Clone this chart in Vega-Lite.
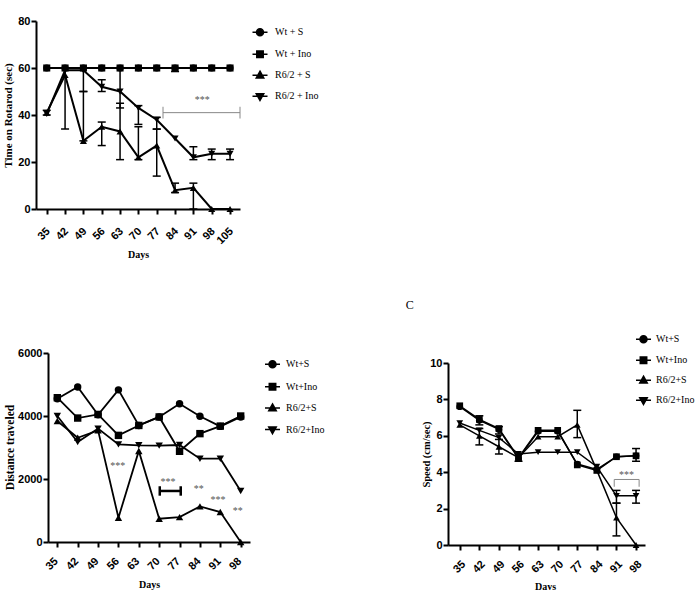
{
  "$schema": "https://vega.github.io/schema/vega-lite/v6.json",
  "width": 699,
  "height": 590,
  "autosize": {"type": "none"},
  "padding": 0,
  "background": "white",
  "config": {
    "view": {"stroke": null},
    "axis": {"grid": false, "domainColor": "#000", "domainWidth": 2, "tickColor": "#000", "tickWidth": 2, "tickSize": 5, "labelColor": "#000", "labelFont": "Liberation Sans", "labelFontSize": 11, "labelFontWeight": "bold", "titleFont": "Liberation Serif", "titleFontWeight": "bold", "titleColor": "#000", "titleFontSize": 11, "labelOverlap": false, "labelFlush": false, "labelPadding": 1, "format": "d"},
    "legend": {"padding": 0, "labelFont": "Liberation Serif", "labelFontSize": 10, "labelColor": "#000", "symbolSize": 225, "symbolStrokeWidth": 1.5, "orient": "none", "title": null}
  },
  "datasets": {
    "a": [
      {"d":35,"s":"Wt + S","v":60},{"d":42,"s":"Wt + S","v":60},{"d":49,"s":"Wt + S","v":60},{"d":56,"s":"Wt + S","v":60},{"d":63,"s":"Wt + S","v":60},{"d":70,"s":"Wt + S","v":60},{"d":77,"s":"Wt + S","v":60},{"d":84,"s":"Wt + S","v":60},{"d":91,"s":"Wt + S","v":60},{"d":98,"s":"Wt + S","v":60},{"d":105,"s":"Wt + S","v":60},
      {"d":35,"s":"Wt + Ino","v":60},{"d":42,"s":"Wt + Ino","v":60},{"d":49,"s":"Wt + Ino","v":60},{"d":56,"s":"Wt + Ino","v":60},{"d":63,"s":"Wt + Ino","v":60},{"d":70,"s":"Wt + Ino","v":60},{"d":77,"s":"Wt + Ino","v":60},{"d":84,"s":"Wt + Ino","v":60},{"d":91,"s":"Wt + Ino","v":60},{"d":98,"s":"Wt + Ino","v":60},{"d":105,"s":"Wt + Ino","v":60},
      {"d":35,"s":"R6/2 + S","v":41},{"d":42,"s":"R6/2 + S","v":57},{"d":49,"s":"R6/2 + S","v":29},{"d":56,"s":"R6/2 + S","v":35},{"d":63,"s":"R6/2 + S","v":33},{"d":70,"s":"R6/2 + S","v":22},{"d":77,"s":"R6/2 + S","v":27},{"d":84,"s":"R6/2 + S","v":8},{"d":91,"s":"R6/2 + S","v":9},{"d":98,"s":"R6/2 + S","v":0},{"d":105,"s":"R6/2 + S","v":0},
      {"d":35,"s":"R6/2 + Ino","v":40.5},{"d":42,"s":"R6/2 + Ino","v":59},{"d":49,"s":"R6/2 + Ino","v":59},{"d":56,"s":"R6/2 + Ino","v":52},{"d":63,"s":"R6/2 + Ino","v":50},{"d":70,"s":"R6/2 + Ino","v":43},{"d":77,"s":"R6/2 + Ino","v":38},{"d":84,"s":"R6/2 + Ino","v":30},{"d":91,"s":"R6/2 + Ino","v":22},{"d":98,"s":"R6/2 + Ino","v":23.5},{"d":105,"s":"R6/2 + Ino","v":23.5}
    ],
    "aErr": [
      {"d":84,"s":"Wt + Ino","lo":58.5,"hi":60},
      {"d":35,"s":"R6/2 + S","lo":40,"hi":42},{"d":42,"s":"R6/2 + S","lo":34,"hi":60},{"d":49,"s":"R6/2 + S","lo":29,"hi":50},{"d":56,"s":"R6/2 + S","lo":27,"hi":37},{"d":63,"s":"R6/2 + S","lo":21,"hi":45},{"d":70,"s":"R6/2 + S","lo":21,"hi":35},{"d":77,"s":"R6/2 + S","lo":14,"hi":34},{"d":84,"s":"R6/2 + S","lo":7,"hi":11},{"d":91,"s":"R6/2 + S","lo":0,"hi":11},
      {"d":49,"s":"R6/2 + Ino","lo":50,"hi":60},{"d":56,"s":"R6/2 + Ino","lo":50,"hi":55},{"d":63,"s":"R6/2 + Ino","lo":43,"hi":60},{"d":70,"s":"R6/2 + Ino","lo":36,"hi":44},{"d":77,"s":"R6/2 + Ino","lo":34,"hi":39},{"d":91,"s":"R6/2 + Ino","lo":21,"hi":26.5},{"d":98,"s":"R6/2 + Ino","lo":21,"hi":25.5},{"d":105,"s":"R6/2 + Ino","lo":21,"hi":25.5}
    ],
    "aSeg": [
      {"x":79.4,"x2":108.8,"y":41,"y2":41},{"x":79.4,"x2":79.4,"y":38.5,"y2":43.5},{"x":108.8,"x2":108.8,"y":38.5,"y2":43.5}
    ],
    "aTxt": [{"x":94.4,"y":46.5,"t":"***"}],
    "b": [
      {"d":35,"s":"Wt+S","v":4550},{"d":42,"s":"Wt+S","v":4920},{"d":49,"s":"Wt+S","v":4040},{"d":56,"s":"Wt+S","v":4830},{"d":63,"s":"Wt+S","v":3700},{"d":70,"s":"Wt+S","v":3970},{"d":77,"s":"Wt+S","v":4390},{"d":84,"s":"Wt+S","v":3990},{"d":91,"s":"Wt+S","v":3670},{"d":98,"s":"Wt+S","v":3970},
      {"d":35,"s":"Wt+Ino","v":4580},{"d":42,"s":"Wt+Ino","v":3935},{"d":49,"s":"Wt+Ino","v":4050},{"d":56,"s":"Wt+Ino","v":3385},{"d":63,"s":"Wt+Ino","v":3700},{"d":70,"s":"Wt+Ino","v":3970},{"d":77,"s":"Wt+Ino","v":2880},{"d":84,"s":"Wt+Ino","v":3440},{"d":91,"s":"Wt+Ino","v":3680},{"d":98,"s":"Wt+Ino","v":4000},
      {"d":35,"s":"R6/2+S","v":3840},{"d":42,"s":"R6/2+S","v":3310},{"d":49,"s":"R6/2+S","v":3545},{"d":56,"s":"R6/2+S","v":770},{"d":63,"s":"R6/2+S","v":2890},{"d":70,"s":"R6/2+S","v":740},{"d":77,"s":"R6/2+S","v":790},{"d":84,"s":"R6/2+S","v":1130},{"d":91,"s":"R6/2+S","v":950},{"d":98,"s":"R6/2+S","v":0},
      {"d":35,"s":"R6/2+Ino","v":4000},{"d":42,"s":"R6/2+Ino","v":3175},{"d":49,"s":"R6/2+Ino","v":3600},{"d":56,"s":"R6/2+Ino","v":3100},{"d":63,"s":"R6/2+Ino","v":3070},{"d":70,"s":"R6/2+Ino","v":3060},{"d":77,"s":"R6/2+Ino","v":3080},{"d":84,"s":"R6/2+Ino","v":2645},{"d":91,"s":"R6/2+Ino","v":2645},{"d":98,"s":"R6/2+Ino","v":1620}
    ],
    "bSeg": [
      {"x":70.2,"x2":77.4,"y":1620,"y2":1620},{"x":70.2,"x2":70.2,"y":1470,"y2":1770},{"x":77.4,"x2":77.4,"y":1470,"y2":1770}
    ],
    "bTxt": [
      {"x":55.8,"y":2420,"t":"***"},{"x":73,"y":1910,"t":"***"},{"x":83.6,"y":1690,"t":"**"},{"x":90.2,"y":1340,"t":"***"},{"x":97,"y":990,"t":"**"}
    ],
    "c": [
      {"d":35,"s":"Wt+S","v":7.6},{"d":42,"s":"Wt+S","v":6.85},{"d":49,"s":"Wt+S","v":6.35},{"d":56,"s":"Wt+S","v":4.75},{"d":63,"s":"Wt+S","v":6.25},{"d":70,"s":"Wt+S","v":6.25},{"d":77,"s":"Wt+S","v":4.45},{"d":84,"s":"Wt+S","v":4.15},{"d":91,"s":"Wt+S","v":4.85},{"d":98,"s":"Wt+S","v":4.9},
      {"d":35,"s":"Wt+Ino","v":7.65},{"d":42,"s":"Wt+Ino","v":6.9},{"d":49,"s":"Wt+Ino","v":6.4},{"d":56,"s":"Wt+Ino","v":4.8},{"d":63,"s":"Wt+Ino","v":6.3},{"d":70,"s":"Wt+Ino","v":6.3},{"d":77,"s":"Wt+Ino","v":4.4},{"d":84,"s":"Wt+Ino","v":4.1},{"d":91,"s":"Wt+Ino","v":4.85},{"d":98,"s":"Wt+Ino","v":4.9},
      {"d":35,"s":"R6/2+S","v":6.6},{"d":42,"s":"R6/2+S","v":6.0},{"d":49,"s":"R6/2+S","v":5.4},{"d":56,"s":"R6/2+S","v":4.8},{"d":63,"s":"R6/2+S","v":5.95},{"d":70,"s":"R6/2+S","v":5.95},{"d":77,"s":"R6/2+S","v":6.6},{"d":84,"s":"R6/2+S","v":4.1},{"d":91,"s":"R6/2+S","v":1.5},{"d":98,"s":"R6/2+S","v":0},
      {"d":35,"s":"R6/2+Ino","v":6.7},{"d":42,"s":"R6/2+Ino","v":6.3},{"d":49,"s":"R6/2+Ino","v":5.9},{"d":56,"s":"R6/2+Ino","v":5.0},{"d":63,"s":"R6/2+Ino","v":5.1},{"d":70,"s":"R6/2+Ino","v":5.1},{"d":77,"s":"R6/2+Ino","v":5.1},{"d":84,"s":"R6/2+Ino","v":4.3},{"d":91,"s":"R6/2+Ino","v":2.7},{"d":98,"s":"R6/2+Ino","v":2.7}
    ],
    "cErr": [
      {"d":42,"s":"Wt+Ino","lo":6.6,"hi":7.1},{"d":49,"s":"Wt+Ino","lo":6.1,"hi":6.5},{"d":56,"s":"Wt+Ino","lo":4.6,"hi":5.0},{"d":98,"s":"Wt+Ino","lo":4.6,"hi":5.3},
      {"d":42,"s":"R6/2+S","lo":5.5,"hi":6.4},{"d":49,"s":"R6/2+S","lo":5.0,"hi":5.8},{"d":77,"s":"R6/2+S","lo":5.9,"hi":7.4},{"d":91,"s":"R6/2+S","lo":0.5,"hi":2.3},
      {"d":91,"s":"R6/2+Ino","lo":2.3,"hi":3.0},{"d":98,"s":"R6/2+Ino","lo":2.3,"hi":3.0}
    ],
    "cSeg": [
      {"x":90.2,"x2":99.1,"y":3.6,"y2":3.6},{"x":90.2,"x2":90.2,"y":3.2,"y2":3.6},{"x":99.1,"x2":99.1,"y":3.2,"y2":3.6}
    ],
    "cTxt": [{"x":94.6,"y":3.85,"t":"***"}],
    "cLab": [{"x":17.1,"y":13.2,"t":"C"}]
  },
  "resolve": {
    "scale": {"x": "independent", "y": "independent", "shape": "independent"},
    "axis": {"x": "independent", "y": "independent"},
    "legend": {"shape": "independent"}
  },
  "layer": [
    {
      "resolve": {"scale": {"shape": "independent"}, "legend": {"shape": "independent"}},
      "layer": [
        {
          "data": {"name": "a"},
          "mark": {"type": "line", "color": "#000", "strokeWidth": 2},
          "encoding": {
            "x": {"field": "d", "type": "quantitative", "scale": {"domain": [30.9, 108.8], "range": [36, 240], "nice": false, "zero": false},
                  "axis": {"orient": "bottom", "title": "Days", "values": [35,42,49,56,63,70,77,84,91,98,105], "labelAngle": -45, "labelAlign": "right", "labelBaseline": "top", "offset": -381, "labelOffset": -3, "labelPadding": 11, "titleX": 138, "titleY": 45, "titleAlign": "center", "titleBaseline": "middle", "titleFontSize": 10}},
            "y": {"field": "v", "type": "quantitative", "scale": {"domain": [0, 80], "range": [209, 21], "nice": false},
                  "axis": {"orient": "left", "title": "Time on Rotarod (sec)", "values": [0,20,40,60,80], "offset": -36, "titleX": -28, "titleY": 115, "titleAngle": -90, "titleAlign": "center", "titleBaseline": "middle", "titleFontSize": 11}},
            "detail": {"field": "s"}
          }
        },
        {
          "data": {"name": "aErr"},
          "mark": {"type": "rule", "color": "#000", "strokeWidth": 1.5},
          "encoding": {"x": {"field": "d", "type": "quantitative"}, "y": {"field": "lo", "type": "quantitative"}, "y2": {"field": "hi"}}
        },
        {
          "data": {"name": "aErr"},
          "mark": {"type": "tick", "orient": "horizontal", "color": "#000", "size": 8, "thickness": 1.5, "opacity": 1},
          "encoding": {"x": {"field": "d", "type": "quantitative"}, "y": {"field": "lo", "type": "quantitative"}}
        },
        {
          "data": {"name": "aErr"},
          "mark": {"type": "tick", "orient": "horizontal", "color": "#000", "size": 8, "thickness": 1.5, "opacity": 1},
          "encoding": {"x": {"field": "d", "type": "quantitative"}, "y": {"field": "hi", "type": "quantitative"}}
        },
        {
          "data": {"name": "a"},
          "mark": {"type": "point", "filled": true, "color": "#000", "opacity": 1, "size": 50},
          "encoding": {
            "x": {"field": "d", "type": "quantitative"},
            "y": {"field": "v", "type": "quantitative"},
            "shape": {"field": "s", "type": "nominal", "scale": {"domain": ["Wt + S", "Wt + Ino", "R6/2 + S", "R6/2 + Ino"], "range": ["circle", "square", "triangle-up", "triangle-down"]}, "legend": null}
          }
        },
        {
          "data": {"name": "a"},
          "transform": [{"filter": "false"}],
          "mark": {"type": "point", "filled": true, "color": "#000", "stroke": "#000", "strokeWidth": 1.5, "opacity": 1},
          "encoding": {
            "x": {"field": "d", "type": "quantitative"},
            "y": {"field": "v", "type": "quantitative"},
            "shape": {"field": "s", "type": "nominal",
              "scale": {"domain": ["Wt + S", "Wt + Ino", "R6/2 + S", "R6/2 + Ino"], "range": ["M-1,0L1,0M-0.47,0A0.47,0.47,0,1,0,0.47,0A0.47,0.47,0,1,0,-0.47,0Z", "M-1,0L1,0M-0.43,-0.43L0.43,-0.43L0.43,0.43L-0.43,0.43Z", "M-1,0L1,0M0,-0.55L0.5,0.35L-0.5,0.35Z", "M-1,0L1,0M0,0.55L0.5,-0.35L-0.5,-0.35Z"]},
              "legend": {"orient": "none", "legendX": 251.5, "legendY": 23.8, "labelOffset": 6.5, "rowPadding": 6, "title": null,
                "encode": {"symbols": {"stroke": {"value": "black"}, "strokeWidth": {"value": 1.5}}}}}
          }
        },
        {
          "data": {"name": "aSeg"},
          "mark": {"type": "rule", "color": "#888", "strokeWidth": 1},
          "encoding": {"x": {"field": "x", "type": "quantitative"}, "x2": {"field": "x2"}, "y": {"field": "y", "type": "quantitative"}, "y2": {"field": "y2"}}
        },
        {
          "data": {"name": "aTxt"},
          "mark": {"type": "text", "color": "#555", "fontSize": 10, "font": "Liberation Serif", "baseline": "middle"},
          "encoding": {"x": {"field": "x", "type": "quantitative"}, "y": {"field": "y", "type": "quantitative"}, "text": {"field": "t"}}
        }
      ]
    },
    {
      "resolve": {"scale": {"shape": "independent"}, "legend": {"shape": "independent"}},
      "layer": [
        {
          "data": {"name": "b"},
          "mark": {"type": "line", "color": "#000", "strokeWidth": 1.8},
          "encoding": {
            "x": {"field": "d", "type": "quantitative", "scale": {"domain": [31.8, 101.2], "range": [48, 250], "nice": false, "zero": false},
                  "axis": {"orient": "bottom", "title": "Days", "values": [35,42,49,56,63,70,77,84,91,98], "labelAngle": -45, "labelAlign": "right", "labelBaseline": "top", "offset": -48, "labelOffset": -5.5, "labelPadding": 8, "titleX": 149, "titleY": 42, "titleAlign": "center", "titleBaseline": "middle", "titleFontSize": 10}},
            "y": {"field": "v", "type": "quantitative", "scale": {"domain": [0, 6000], "range": [542, 353], "nice": false},
                  "axis": {"orient": "left", "title": "Distance traveled", "values": [0,2000,4000,6000], "offset": -48, "titleX": -38, "titleY": 447, "titleAngle": -90, "titleAlign": "center", "titleBaseline": "middle", "titleFontSize": 11.5}},
            "detail": {"field": "s"}
          }
        },
        {
          "data": {"name": "b"},
          "mark": {"type": "point", "filled": true, "color": "#000", "opacity": 1, "size": 55},
          "encoding": {
            "x": {"field": "d", "type": "quantitative"},
            "y": {"field": "v", "type": "quantitative"},
            "shape": {"field": "s", "type": "nominal", "scale": {"domain": ["Wt+S", "Wt+Ino", "R6/2+S", "R6/2+Ino"], "range": ["circle", "square", "triangle-up", "triangle-down"]}, "legend": null}
          }
        },
        {
          "data": {"name": "b"},
          "transform": [{"filter": "false"}],
          "mark": {"type": "point", "filled": true, "color": "#000", "stroke": "#000", "strokeWidth": 1.5, "opacity": 1},
          "encoding": {
            "x": {"field": "d", "type": "quantitative"},
            "y": {"field": "v", "type": "quantitative"},
            "shape": {"field": "s", "type": "nominal",
              "scale": {"domain": ["Wt+S", "Wt+Ino", "R6/2+S", "R6/2+Ino"], "range": ["M-1,0L1,0M-0.47,0A0.47,0.47,0,1,0,0.47,0A0.47,0.47,0,1,0,-0.47,0Z", "M-1,0L1,0M-0.43,-0.43L0.43,-0.43L0.43,0.43L-0.43,0.43Z", "M-1,0L1,0M0,-0.55L0.5,0.35L-0.5,0.35Z", "M-1,0L1,0M0,0.55L0.5,-0.35L-0.5,-0.35Z"]},
              "legend": {"orient": "none", "legendX": 264, "legendY": 355.8, "labelOffset": 5, "rowPadding": 6.4, "title": null,
                "encode": {"symbols": {"stroke": {"value": "black"}, "strokeWidth": {"value": 1.5}}}}}
          }
        },
        {
          "data": {"name": "bSeg"},
          "mark": {"type": "rule", "color": "#000", "strokeWidth": 2.5},
          "encoding": {"x": {"field": "x", "type": "quantitative"}, "x2": {"field": "x2"}, "y": {"field": "y", "type": "quantitative"}, "y2": {"field": "y2"}}
        },
        {
          "data": {"name": "bTxt"},
          "mark": {"type": "text", "color": "#555", "fontSize": 10, "font": "Liberation Serif", "baseline": "middle"},
          "encoding": {"x": {"field": "x", "type": "quantitative"}, "y": {"field": "y", "type": "quantitative"}, "text": {"field": "t"}}
        }
      ]
    },
    {
      "resolve": {"scale": {"shape": "independent"}, "legend": {"shape": "independent"}},
      "layer": [
        {
          "data": {"name": "c"},
          "mark": {"type": "line", "color": "#000", "strokeWidth": 1.5},
          "encoding": {
            "x": {"field": "d", "type": "quantitative", "scale": {"domain": [30.8, 101.2], "range": [448, 645], "nice": false, "zero": false},
                  "axis": {"orient": "bottom", "title": "Days", "values": [35,42,49,56,63,70,77,84,91,98], "labelAngle": -45, "labelAlign": "right", "labelBaseline": "top", "offset": -45, "labelOffset": -0.5, "labelPadding": 8, "titleX": 545, "titleY": 41, "titleAlign": "center", "titleBaseline": "middle", "titleFontSize": 10}},
            "y": {"field": "v", "type": "quantitative", "scale": {"domain": [0, 10], "range": [545, 363], "nice": false},
                  "axis": {"orient": "left", "title": "Speed (cm/sec)", "values": [0,2,4,6,8,10], "offset": -448, "titleX": -22, "titleY": 454, "titleAngle": -90, "titleAlign": "center", "titleBaseline": "middle", "titleFontSize": 10.5}},
            "detail": {"field": "s"}
          }
        },
        {
          "data": {"name": "cErr"},
          "mark": {"type": "rule", "color": "#000", "strokeWidth": 1.5},
          "encoding": {"x": {"field": "d", "type": "quantitative"}, "y": {"field": "lo", "type": "quantitative"}, "y2": {"field": "hi"}}
        },
        {
          "data": {"name": "cErr"},
          "mark": {"type": "tick", "orient": "horizontal", "color": "#000", "size": 8, "thickness": 1.5, "opacity": 1},
          "encoding": {"x": {"field": "d", "type": "quantitative"}, "y": {"field": "lo", "type": "quantitative"}}
        },
        {
          "data": {"name": "cErr"},
          "mark": {"type": "tick", "orient": "horizontal", "color": "#000", "size": 8, "thickness": 1.5, "opacity": 1},
          "encoding": {"x": {"field": "d", "type": "quantitative"}, "y": {"field": "hi", "type": "quantitative"}}
        },
        {
          "data": {"name": "c"},
          "mark": {"type": "point", "filled": true, "color": "#000", "opacity": 1, "size": 45},
          "encoding": {
            "x": {"field": "d", "type": "quantitative"},
            "y": {"field": "v", "type": "quantitative"},
            "shape": {"field": "s", "type": "nominal", "scale": {"domain": ["Wt+S", "Wt+Ino", "R6/2+S", "R6/2+Ino"], "range": ["circle", "square", "triangle-up", "triangle-down"]}, "legend": null}
          }
        },
        {
          "data": {"name": "c"},
          "transform": [{"filter": "false"}],
          "mark": {"type": "point", "filled": true, "color": "#000", "stroke": "#000", "strokeWidth": 1.5, "opacity": 1},
          "encoding": {
            "x": {"field": "d", "type": "quantitative"},
            "y": {"field": "v", "type": "quantitative"},
            "shape": {"field": "s", "type": "nominal",
              "scale": {"domain": ["Wt+S", "Wt+Ino", "R6/2+S", "R6/2+Ino"], "range": ["M-1,0L1,0M-0.47,0A0.47,0.47,0,1,0,0.47,0A0.47,0.47,0,1,0,-0.47,0Z", "M-1,0L1,0M-0.43,-0.43L0.43,-0.43L0.43,0.43L-0.43,0.43Z", "M-1,0L1,0M0,-0.55L0.5,0.35L-0.5,0.35Z", "M-1,0L1,0M0,0.55L0.5,-0.35L-0.5,-0.35Z"]},
              "legend": {"orient": "none", "legendX": 635, "legendY": 330.8, "labelOffset": 4, "rowPadding": 5, "title": null,
                "encode": {"symbols": {"stroke": {"value": "black"}, "strokeWidth": {"value": 1.5}}}}}
          }
        },
        {
          "data": {"name": "cSeg"},
          "mark": {"type": "rule", "color": "#888", "strokeWidth": 1},
          "encoding": {"x": {"field": "x", "type": "quantitative"}, "x2": {"field": "x2"}, "y": {"field": "y", "type": "quantitative"}, "y2": {"field": "y2"}}
        },
        {
          "data": {"name": "cTxt"},
          "mark": {"type": "text", "color": "#555", "fontSize": 10, "font": "Liberation Serif", "baseline": "middle"},
          "encoding": {"x": {"field": "x", "type": "quantitative"}, "y": {"field": "y", "type": "quantitative"}, "text": {"field": "t"}}
        },
        {
          "data": {"name": "cLab"},
          "mark": {"type": "text", "color": "#000", "fontSize": 12, "font": "Liberation Serif", "baseline": "middle"},
          "encoding": {"x": {"field": "x", "type": "quantitative"}, "y": {"field": "y", "type": "quantitative"}, "text": {"field": "t"}}
        }
      ]
    }
  ]
}
